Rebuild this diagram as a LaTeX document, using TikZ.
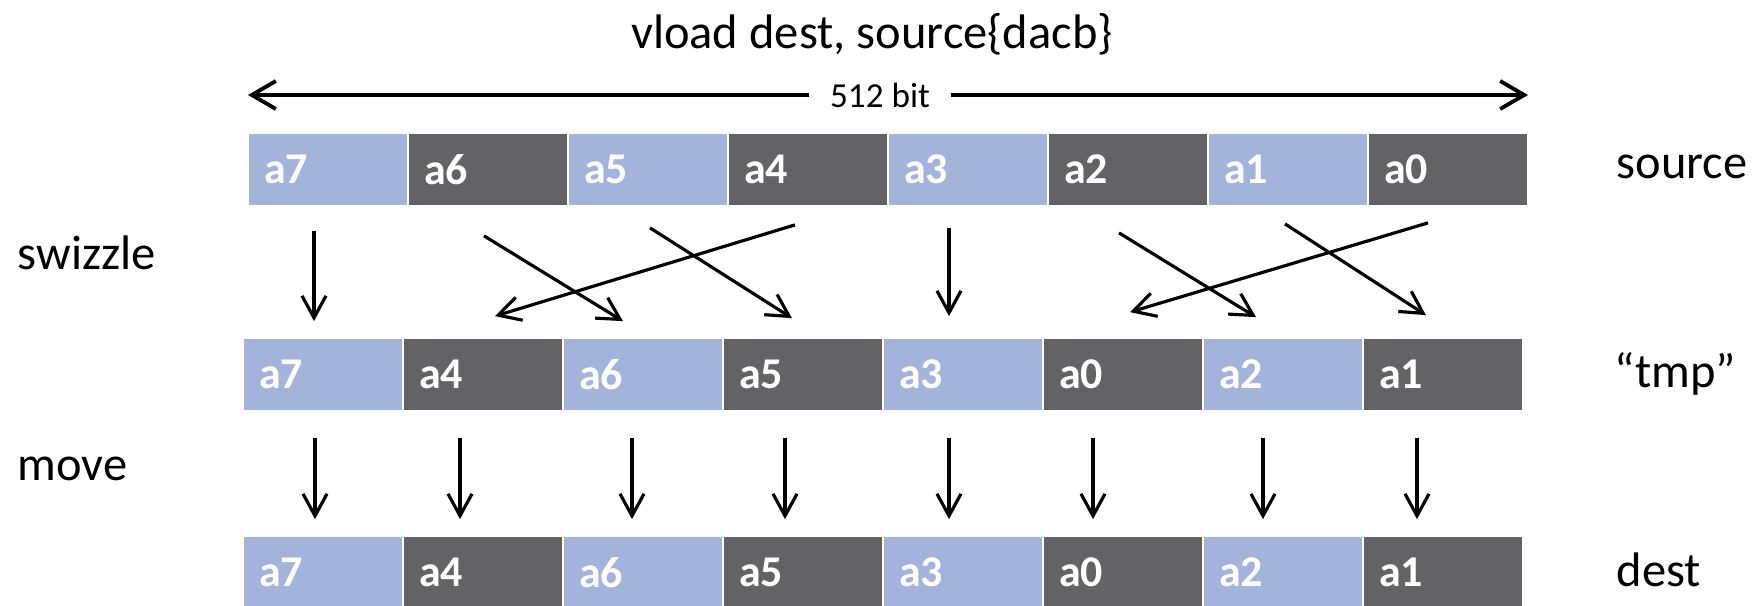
\documentclass[tikz,border=0pt]{standalone}
\usepackage{fontspec}
\setmainfont{Carlito}
\usepackage[dvipsnames]{xcolor}
\usetikzlibrary{positioning,calc,arrows.meta}

\definecolor{laneblue}{HTML}{A2B4DA}
\definecolor{lanegray}{HTML}{636365}

\begin{document}
\begin{tikzpicture}[x=0.1mm,y=-0.1mm,node distance=16mm,
  lane/.style={draw=white,line width=0.5pt,minimum width=16mm,minimum height=7.3mm,inner xsep=1.6mm,text width=12.8mm,align=left,text=white,font=\fontsize{12.5}{14}\selectfont\bfseries},
  lite/.style={lane,fill=laneblue},
  dark/.style={lane,fill=lanegray},
  sidetext/.style={inner sep=0pt,font=\fontsize{13.8}{16}\selectfont},
  arr/.style={-{Straight Barb[length=2.2mm,width=2.4mm]},line width=0.9pt},
  widearr/.style={-{Straight Barb[length=2.4mm,width=2.8mm]},line width=1.1pt}]

            \useasboundingbox (0,0) rectangle (1754,606);

            \node[sidetext] (title) at (872,34) {vload dest, source\{dacb\}};

            % 512 bit span
            \coordinate (bl) at (248,95);
            \coordinate (br) at (1528,95);
            \node[sidetext,font=\fontsize{10}{12}\selectfont,inner xsep=2mm] (span) at (880,95) {512 bit};
            \draw[widearr] (span) to (bl);
            \draw[widearr] (span) to (br);

            % source
            \node[lite] (s7) at (328,169.5) {a7};
            \node[dark] (s6) [right of = s7] {a6};
            \node[lite] (s5) [right of = s6] {a5};
            \node[dark] (s4) [right of = s5] {a4};
            \node[lite] (s3) [right of = s4] {a3};
            \node[dark] (s2) [right of = s3] {a2};
            \node[lite] (s1) [right of = s2] {a1};
            \node[dark] (s0) [right of = s1] {a0};

            % tmp
            \node[lite] (t7) at (323,374.5) {a7};
            \node[dark] (t4) [right of = t7] {a4};
            \node[lite] (t6) [right of = t4] {a6};
            \node[dark] (t5) [right of = t6] {a5};
            \node[lite] (t3) [right of = t5] {a3};
            \node[dark] (t0) [right of = t3] {a0};
            \node[lite] (t2) [right of = t0] {a2};
            \node[dark] (t1) [right of = t2] {a1};

            % dest
            \node[lite] (d7) at (323,572.5) {a7};
            \node[dark] (d4) [right of = d7] {a4};
            \node[lite] (d6) [right of = d4] {a6};
            \node[dark] (d5) [right of = d6] {a5};
            \node[lite] (d3) [right of = d5] {a3};
            \node[dark] (d0) [right of = d3] {a0};
            \node[lite] (d2) [right of = d0] {a2};
            \node[dark] (d1) [right of = d2] {a1};

            \node[sidetext,anchor=west] (srcname) at (1616,167) {source};
            \node[sidetext,anchor=west] (tmpname) at (1614,374) {“tmp”};
            \node[sidetext,anchor=west] (dstname) at (1616,570) {dest};
            \node[sidetext,anchor=west] (swz) at (17,253) {swizzle};
            \node[sidetext,anchor=west] (mov) at (17,469) {move};

            % swizzle
            \draw[arr] ($(s7.south)+(-14,24)$) to ($(t7.north)+(-9,-16)$);
            \draw[arr] ($(s6.south)+(-4,29)$) to ($(t6.north)+(-20,-16)$);
            \draw[arr] ($(s5.south)+(2,21)$) to ($(t5.north)+(-11,-19)$);
            \draw[arr] ($(s4.south)+(-13,18)$) to ($(t4.north)+(12,-21)$);
            \draw[arr] ($(s3.south)+(-19,21)$) to ($(t3.north)+(-14,-21)$);
            \draw[arr] ($(s2.south)+(-9,26)$) to ($(t2.north)+(-27,-20)$);
            \draw[arr] ($(s1.south)+(-3,17)$) to ($(t1.north)+(-17,-22)$);
            \draw[arr] ($(s0.south)+(-20,16)$) to ($(t0.north)+(7,-25)$);

            % move
            \draw[arr] ($(t7.south)+(-8,26)$) to ($(d7.north)+(-8,-16)$);
            \draw[arr] ($(t4.south)+(-23,26)$) to ($(d4.north)+(-23,-16)$);
            \draw[arr] ($(t6.south)+(-11,26)$) to ($(d6.north)+(-11,-16)$);
            \draw[arr] ($(t5.south)+(-18,26)$) to ($(d5.north)+(-18,-16)$);
            \draw[arr] ($(t3.south)+(-14,26)$) to ($(d3.north)+(-14,-16)$);
            \draw[arr] ($(t0.south)+(-30,26)$) to ($(d0.north)+(-30,-16)$);
            \draw[arr] ($(t2.south)+(-20,26)$) to ($(d2.north)+(-20,-16)$);
            \draw[arr] ($(t1.south)+(-26,26)$) to ($(d1.north)+(-26,-16)$);

            ;
        \end{tikzpicture}
\end{document}
